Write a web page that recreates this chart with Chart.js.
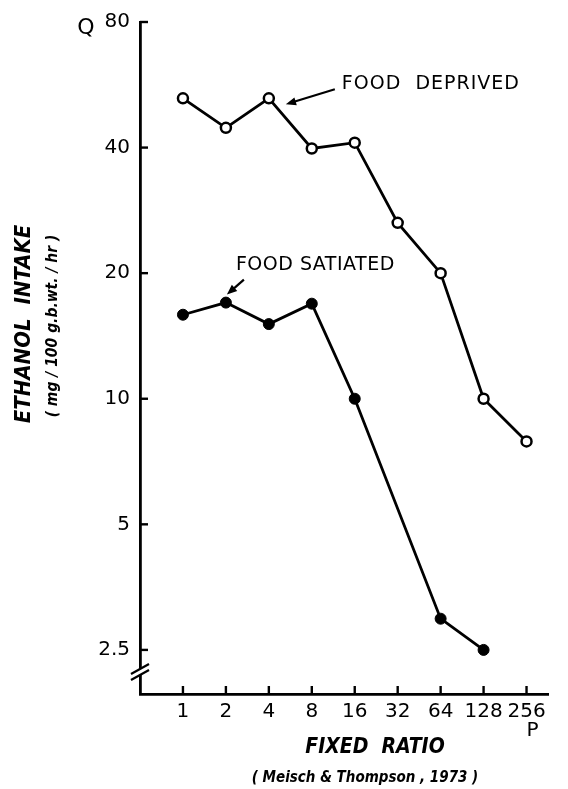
<!DOCTYPE html>
<html>
<head>
<meta charset="utf-8">
<script src="https://cdn.jsdelivr.net/npm/chart.js@4/dist/chart.umd.min.js"></script>
<style>
  html, body { margin: 0; padding: 0; background: #fff; }
  #wrap { width: 568px; height: 789px; position: relative; }
</style>
</head>
<body>
<div id="wrap"><canvas id="chart"></canvas></div>
<script>
// ── Data ───────────────────────────────────────────────────────────
const ratioLabels = ['1', '2', '4', '8', '16', '32', '64', '128', '256'];
const foodDeprived = [52.5, 44.6, 52.5, 39.8, 41.1, 26.4, 20, 10, 7.9];
const foodSatiated = [15.9, 17.0, 15.1, 16.9, 10, null, 2.97, 2.5, null];
const yTickValues = [2.5, 5, 10, 20, 40, 80];

const toPoints = arr => arr.map((v, i) => ({ x: i + 1, y: v }));

const TICK_FONT = '20px "DejaVu Sans"';
const NARROW = '"Liberation Sans Narrow", "DejaVu Sans Condensed", sans-serif';

// ── Extra drawing: inward ticks, axis break, labels, arrows ───────
const decorations = {
    id: 'decorations',
    afterDraw(chart) {
        const { ctx, chartArea: a, scales: { x, y } } = chart;
        ctx.save();
        ctx.strokeStyle = '#000';
        ctx.fillStyle = '#000';
        ctx.lineWidth = 2.4;

        // inward tick marks
        yTickValues.forEach(v => {
            const py = y.getPixelForValue(v);
            ctx.beginPath(); ctx.moveTo(a.left, py); ctx.lineTo(a.left + 8, py); ctx.stroke();
        });
        ratioLabels.forEach((_, i) => {
            const px = x.getPixelForValue(i + 1);
            ctx.beginPath(); ctx.moveTo(px, a.bottom); ctx.lineTo(px, a.bottom - 8); ctx.stroke();
        });

        // axis break on the y axis
        const by = a.bottom - 22;
        ctx.fillStyle = '#fff';
        ctx.beginPath();
        ctx.moveTo(a.left - 9, by + 2); ctx.lineTo(a.left + 9, by - 8);
        ctx.lineTo(a.left + 9, by - 2); ctx.lineTo(a.left - 9, by + 8);
        ctx.closePath(); ctx.fill();
        ctx.fillStyle = '#000';
        ctx.lineWidth = 2.2;
        ctx.beginPath(); ctx.moveTo(a.left - 9, by + 2); ctx.lineTo(a.left + 9, by - 8); ctx.stroke();
        ctx.beginPath(); ctx.moveTo(a.left - 9, by + 8); ctx.lineTo(a.left + 9, by - 2); ctx.stroke();

        // corner letters
        ctx.font = '22px "DejaVu Sans"';
        ctx.textBaseline = 'middle';
        ctx.textAlign = 'center';
        ctx.fillText('Q', 86, 28);
        ctx.font = TICK_FONT;
        ctx.fillText('P', x.getPixelForValue(9) + 6, a.bottom + 37);

        // series annotations
        const dp = { x: x.getPixelForValue(3), y: y.getPixelForValue(foodDeprived[2]) };
        ctx.textAlign = 'left';
        ctx.font = '19px "DejaVu Sans"';
        ctx.letterSpacing = '1px';
        ctx.fillText('FOOD  DEPRIVED', dp.x + 73, dp.y - 14);
        arrow(ctx, dp.x + 66, dp.y - 9, dp.x + 17, dp.y + 6);

        const sp = { x: x.getPixelForValue(2), y: y.getPixelForValue(foodSatiated[1]) };
        ctx.letterSpacing = '0.5px';
        ctx.fillText('FOOD SATIATED', sp.x + 10, sp.y - 38);
        arrow(ctx, sp.x + 18, sp.y - 23, sp.x + 1, sp.y - 8);
        ctx.letterSpacing = '0px';

        // axis titles
        ctx.textAlign = 'center';
        ctx.font = 'italic bold 21px ' + NARROW;
        ctx.fillText('FIXED  RATIO', 375, 748);
        ctx.font = 'italic bold 15px ' + NARROW;
        ctx.fillText('( Meisch & Thompson , 1973 )', 365, 778);

        ctx.save();
        ctx.translate(24, 324);
        ctx.rotate(-Math.PI / 2);
        ctx.font = 'italic bold 22px ' + NARROW;
        ctx.fillText('ETHANOL  INTAKE', 0, 0);
        ctx.restore();
        ctx.save();
        ctx.translate(53, 326);
        ctx.rotate(-Math.PI / 2);
        ctx.font = 'italic bold 15.5px ' + NARROW;
        ctx.fillText('( mg / 100 g.b.wt. / hr )', 0, 0);
        ctx.restore();

        ctx.restore();
    }
};

function arrow(ctx, x0, y0, x1, y1) {
    const ang = Math.atan2(y1 - y0, x1 - x0);
    const len = 11, half = 0.38;
    ctx.lineWidth = 2.2;
    ctx.beginPath();
    ctx.moveTo(x0, y0);
    ctx.lineTo(x1 - Math.cos(ang) * 6, y1 - Math.sin(ang) * 6);
    ctx.stroke();
    ctx.beginPath();
    ctx.moveTo(x1, y1);
    ctx.lineTo(x1 - len * Math.cos(ang - half), y1 - len * Math.sin(ang - half));
    ctx.lineTo(x1 - len * Math.cos(ang + half), y1 - len * Math.sin(ang + half));
    ctx.closePath();
    ctx.fill();
}

new Chart(document.getElementById('chart'), {
    type: 'line',
    data: {
        datasets: [
            {
                label: 'Food deprived',
                data: toPoints(foodDeprived),
                borderColor: '#000',
                borderWidth: 2.8,
                pointRadius: 5,
                pointBorderWidth: 2.5,
                pointBackgroundColor: '#fff',
                pointBorderColor: '#000',
                tension: 0,
            },
            {
                label: 'Food satiated',
                data: toPoints(foodSatiated),
                borderColor: '#000',
                borderWidth: 2.8,
                pointRadius: 5.5,
                pointBorderWidth: 1,
                pointBackgroundColor: '#000',
                pointBorderColor: '#000',
                spanGaps: true,
                tension: 0,
            }
        ]
    },
    options: {
        responsive: true,
        maintainAspectRatio: false,
        animation: false,
        events: [],
        layout: { padding: { top: 15, right: 20, left: 0, bottom: 0 } },
        plugins: { legend: { display: false }, tooltip: { enabled: false } },
        scales: {
            x: {
                type: 'linear',
                min: 0,
                max: 9.5,
                afterBuildTicks: s => { s.ticks = ratioLabels.map((_, i) => ({ value: i + 1 })); },
                afterFit: s => { s.height = 95; },
                ticks: {
                    autoSkip: false,
                    maxRotation: 0,
                    padding: 6,
                    color: '#000',
                    font: { family: 'DejaVu Sans', size: 20 },
                    callback: v => ratioLabels[v - 1]
                },
                grid: { display: false, drawTicks: false },
                border: { display: true, color: '#000', width: 2.8 }
            },
            y: {
                type: 'logarithmic',
                min: 1.96,
                max: 80,
                afterBuildTicks: s => { s.ticks = yTickValues.map(v => ({ value: v })); },
                afterFit: s => { s.width = 140; },
                ticks: {
                    autoSkip: false,
                    padding: 10,
                    color: '#000',
                    font: { family: 'DejaVu Sans', size: 20 },
                    callback: v => String(v)
                },
                grid: { display: false, drawTicks: false },
                border: { display: true, color: '#000', width: 2.8 }
            }
        }
    },
    plugins: [decorations]
});
</script>
</body>
</html>
